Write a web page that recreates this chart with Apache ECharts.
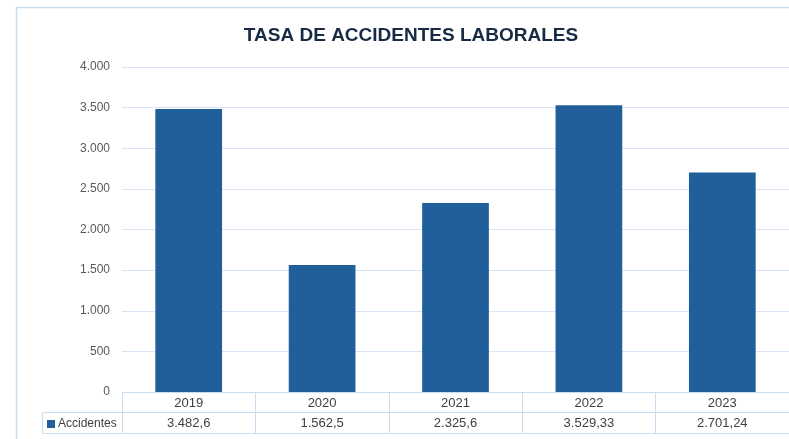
<!DOCTYPE html>
<html><head><meta charset="utf-8">
<script src="https://cdn.jsdelivr.net/npm/echarts@6/dist/echarts.min.js"></script>
<style>html,body{margin:0;padding:0;background:#fff}#c{width:789px;height:439px}</style>
</head><body><div id="c"></div>
<script>
const categories = ['2019', '2020', '2021', '2022', '2023'];
const accidentes = [3482.6, 1562.5, 2325.6, 3529.33, 2701.24];
const seriesName = 'Accidentes';

function fmt(v) {
  const s = String(v).split('.');
  const intPart = s[0].replace(/\B(?=(\d{3})+(?!\d))/g, '.');
  return s.length > 1 ? intPart + ',' + s[1] : intPart;
}

const lineColor = '#c9dcf0';
const font = '"Liberation Sans", sans-serif';
const chart = echarts.init(document.getElementById('c'));
chart.setOption({
  animation: false,
  title: {
    text: 'TASA DE ACCIDENTES LABORALES',
    left: 406, top: 21, textAlign: 'center',
    textStyle: { fontFamily: font, fontSize: 19, fontWeight: 'bold', color: '#172b45' }
  },
  grid: { left: 122, right: 0, top: 67, bottom: 47, containLabel: false },
  xAxis: [
    {
      type: 'category', data: categories, position: 'bottom',
      axisLine: { show: true, lineStyle: { color: lineColor, width: 1 } },
      axisTick: { show: true, length: 41, lineStyle: { color: lineColor } },
      axisLabel: { margin: 5, fontFamily: font, fontSize: 13, color: '#404040' }
    },
    {
      type: 'category', data: categories, position: 'bottom', offset: 20,
      axisLine: { show: true, lineStyle: { color: lineColor, width: 1 } },
      axisTick: { show: false },
      axisLabel: { margin: 5, fontFamily: font, fontSize: 13, color: '#404040',
        formatter: (val, idx) => fmt(accidentes[idx]) }
    },
    {
      type: 'category', data: categories, position: 'bottom', offset: 41,
      axisLine: { show: true, lineStyle: { color: lineColor, width: 1 } },
      axisTick: { show: false }, axisLabel: { show: false }
    }
  ],
  yAxis: {
    type: 'value', min: 0, max: 4000, interval: 500,
    axisLine: { show: false }, axisTick: { show: false },
    axisLabel: { margin: 12, fontFamily: font, fontSize: 12, color: '#595959',
      formatter: v => fmt(v) },
    splitLine: { lineStyle: { color: '#d6e4f3', width: 1 } }
  },
  series: [{
    name: seriesName, type: 'bar', data: accidentes, barWidth: '50%',
    itemStyle: { color: '#215f9a' }
  }],
  graphic: [
    { type: 'rect', shape: { x: 16.5, y: 7.5, width: 820, height: 460 },
      style: { fill: 'none', stroke: '#c9dcf0', lineWidth: 1.5 }, silent: true },
    { type: 'polyline', shape: { points: [[122, 412.5], [42.5, 412.5], [42.5, 433.5], [122, 433.5]] },
      style: { fill: 'none', stroke: lineColor, lineWidth: 1 }, silent: true },
    { type: 'rect', shape: { x: 47, y: 420, width: 8, height: 8 }, style: { fill: '#215f9a' }, silent: true },
    { type: 'text', x: 58, y: 423.5,
      style: { text: seriesName, fontFamily: font, fontSize: 12, fill: '#404040', verticalAlign: 'middle' }, silent: true }
  ]
});
</script></body></html>
